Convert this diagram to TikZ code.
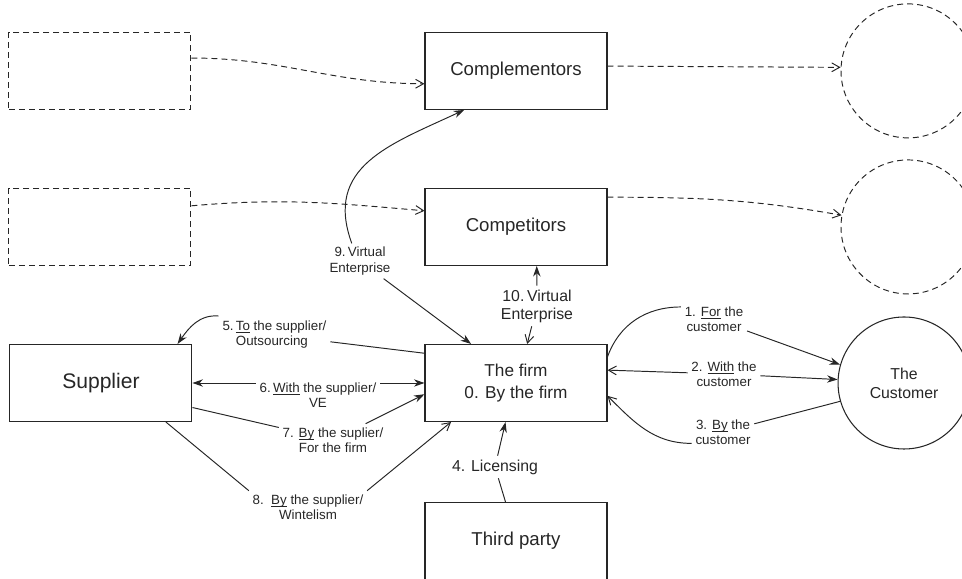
\documentclass[tikz,border=0pt]{standalone}
\usepackage{fontspec}
\setmainfont{Liberation Sans}
\usepackage{tikz}
\usetikzlibrary{arrows.meta, positioning, shapes}
\newcommand{\undl}[1]{\setbox0\hbox{#1}\rlap{\rule[-1.3pt]{\wd0}{0.45pt}}#1}

\begin{document}
\begin{tikzpicture}[node distance=1.56cm and 4.64cm,
    every node/.style={text=black!85},
    box/.style={draw=black!85, line width=0.6pt, minimum width=3.64cm, minimum height=1.54cm, inner sep=0pt, align=center, font=\fontsize{10.6}{12.5}\selectfont},
    ghost/.style={box, line width=0.55pt, dash pattern=on 3.4pt off 2.3pt},
    ghostc/.style={draw=black!85, circle, minimum size=2.68cm, line width=0.55pt, dash pattern=on 3.4pt off 2.3pt},
    lbl/.style={align=center, inner sep=2pt, font=\fontsize{7.6}{8.6}\selectfont},
    lblbig/.style={align=center, inner sep=2pt, font=\fontsize{9}{10.3}\selectfont},
    ln/.style={color=black!85, line width=0.55pt},
    sa/.style={-{Stealth[length=6pt,width=4.2pt]}},
    oa/.style={-{Straight Barb[length=4.5pt,width=5pt]}}]
        \useasboundingbox (-10.32,7.66) rectangle (8.92,-3.92);

        \node (firm) [box, font=\fontsize{9.8}{12.5}\selectfont] {The firm\\0. By the firm};
        \node (cpt) [box, above=of firm] {Competitors};
        \node (cmp) [box, above=of cpt] {Complementors};
        \node (third) [box, below=1.6cm of firm] {Third party};
        \node (sup) [box, left=of firm, font=\fontsize{12}{14}\selectfont] {Supplier};

        \node (d1) [ghost, left=4.66cm of cmp] {};
        \node (d2) [ghost, left=4.66cm of cpt] {};
        \node (c1) [ghostc, right=4.66cm of cmp] {};
        \node (c2) [ghostc, right=4.66cm of cpt] {};
        \node (cust) [circle, draw=black!85, line width=0.6pt, minimum size=2.64cm, right=4.6cm of firm, align=center, font=\fontsize{9}{10.8}\selectfont] {The\\Customer};

        \node (l1) [lbl] at (3.96,1.28) {1. \undl{For} the\\customer};
        \node (l2) [lbl] at (4.16,0.18) {2. \undl{With} the\\customer};
        \node (l3) [lbl] at (4.14,-0.98) {3. \undl{By} the\\customer};
        \node (l4) [lblbig] at (-0.42,-1.68) {4. Licensing};
        \node (l5) [inner sep=2pt, font=\fontsize{7.6}{8.6}\selectfont] at (-4.83,0.96) {\begin{tabular}{@{}l@{}l@{}}5.\,&\undl{To} the supplier/\\&Outsourcing\end{tabular}};
        \node (l6) [lbl] at (-3.96,-0.24) {6.\,\undl{With} the supplier/\\VE};
        \node (l7) [lbl] at (-3.66,-1.14) {7. \undl{By} the suplier/\\For the firm};
        \node (l8) [lbl] at (-4.16,-2.48) {8.\ \ \undl{By} the supplier/\\Wintelism};
        \node (l9) [lbl] at (-3.12,2.44) {9.\,Virtual\\Enterprise};
        \node (l10) [lblbig] at (0.42,1.54) {10.\,Virtual\\Enterprise};

        \path [ln, dash pattern=on 3.4pt off 2.3pt]
            (d1.8) edge [oa, out=0, in=180] (cmp.188)
            (d2.13) edge [oa, out=5, in=175] (cpt.170)
            (cmp.3) edge [oa] (c1.177)
            (cpt.18) edge [oa, out=0, in=170] (c2.170);

        \path [ln]
            (l9.115) edge [sa, out=110, in=205, looseness=1.2] (cmp.217)
            (l9) edge [sa] (firm.139)
            (l10) edge [sa] (cpt.-62)
            (l10) edge [oa] (firm.74)

            (firm.162) edge (l5)
            (l5.north west) edge [sa, out=175, in=55] (sup.27)
            (l6.west |- sup.east) edge [sa] (sup.east)
            (l6.east |- firm.west) edge [sa] (firm.west)
            (sup.-15) edge (l7)
            (l7) edge [sa] (firm.187)
            (sup.-31) edge (l8.north west)
            (l8.north east) edge [oa] (firm.211)

            (third.105) edge (l4)
            (l4) edge [sa] (firm.-105)

            (firm.16) edge [out=70, in=180] (l1.160)
            (l1) edge [sa] (cust.164)
            (l2) edge [oa] (firm.8)
            (l2) edge [sa] (cust.177)
            (cust.196) edge (l3)
            (l3.200) edge [oa, out=180, in=-45] (firm.-8);
    \end{tikzpicture}
\end{document}
